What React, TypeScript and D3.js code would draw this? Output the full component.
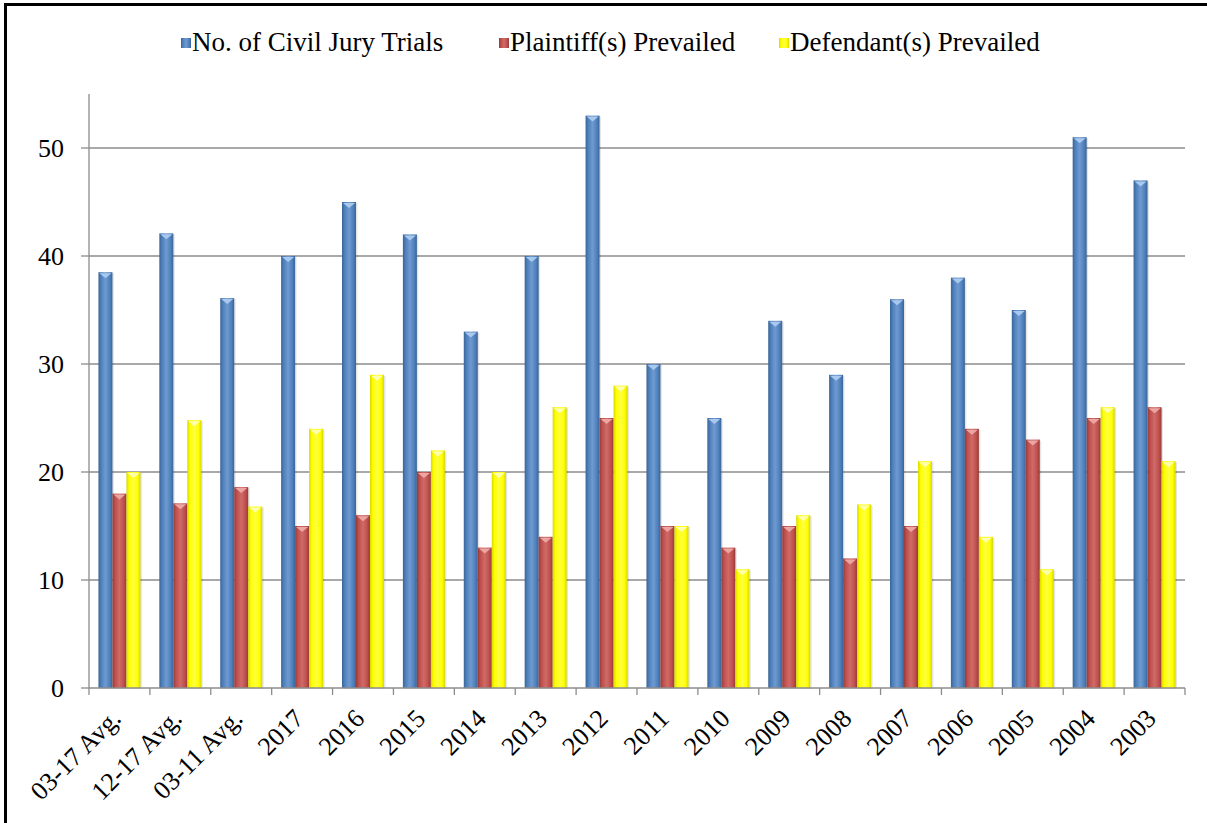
import React from "react";
import * as d3 from "d3";

const categories = ["03-17 Avg.", "12-17 Avg.", "03-11 Avg.", "2017", "2016", "2015", "2014", "2013", "2012", "2011", "2010", "2009", "2008", "2007", "2006", "2005", "2004", "2003"];
const trials = [38.5, 42.1, 36.1, 40, 45, 42, 33, 40, 53, 30, 25, 34, 29, 36, 38, 35, 51, 47];
const plaintiff = [18, 17.1, 18.6, 15, 16, 20, 13, 14, 25, 15, 13, 15, 12, 15, 24, 23, 25, 26];
const defendant = [20, 24.8, 16.8, 24, 29, 22, 20, 26, 28, 15, 11, 16, 17, 21, 14, 11, 26, 21];
const seriesNames = ["No. of Civil Jury Trials", "Plaintiff(s) Prevailed", "Defendant(s) Prevailed"];
const yTicks = [0, 10, 20, 30, 40, 50];

const colors = [
  { base: "#4F81BD", dark: "#3A6597", light: "#6F9AD0", cap: "#A9C8EE" },
  { base: "#C0504D", dark: "#963B39", light: "#CF6B68", cap: "#EBA6A4" },
  { base: "#FFFF00", dark: "#D8D800", light: "#FFFF40", cap: "#FFFFB0" },
];

export default function App() {
  const W = 1207, H = 823;
  const left = 89, right = 1185, top = 94, bottom = 688;
  const x = d3.scaleBand().domain(categories).range([left, right]).paddingInner(0).paddingOuter(0);
  const y = d3.scaleLinear().domain([0, 55]).range([bottom, top]);
  const bw = 14;
  const data = [trials, plaintiff, defendant];
  const font = "'Liberation Serif', 'Times New Roman', serif";
  const legendX = [181, 499, 779];

  return (
    <svg width={W} height={H} style={{ position: "absolute", left: 0, top: 0 }}>
      <defs>
        {colors.map((c, i) => (
          <linearGradient key={i} id={`g${i}`} x1="0" x2="1" y1="0" y2="0">
            <stop offset="0" stopColor={c.dark} />
            <stop offset="0.2" stopColor={c.base} />
            <stop offset="0.5" stopColor={c.light} />
            <stop offset="0.8" stopColor={c.base} />
            <stop offset="1" stopColor={c.dark} />
          </linearGradient>
        ))}
      </defs>
      <rect x={0} y={0} width={W} height={H} fill="#fff" />
      <line x1={5.5} x2={5.5} y1={3} y2={H} stroke="#000" strokeWidth={3} />
      <line x1={4} x2={W} y1={4.5} y2={4.5} stroke="#000" strokeWidth={3} />
      {yTicks.map((t) => (
        <g key={t}>
          {t > 0 && <line x1={left} x2={right} y1={y(t)} y2={y(t)} stroke="#8c8c8c" strokeWidth={1.3} />}
          <line x1={left - 8} x2={left} y1={y(t)} y2={y(t)} stroke="#8c8c8c" strokeWidth={1.3} />
          <text x={left - 25} y={y(t) + 9} textAnchor="end" fontFamily={font} fontSize={26} fill="#000">{t}</text>
        </g>
      ))}
      <line x1={left} x2={left} y1={top} y2={bottom} stroke="#8c8c8c" strokeWidth={1.3} />
      {categories.map((c, i) => {
        const bx = x(c)!;
        return (
          <g key={c}>
            {data.map((s, k) => {
              const x0 = bx + (x.bandwidth() - 3 * bw) / 2 + k * bw;
              const y0 = y(s[i]);
              const h = bottom - y0;
              return (
                <g key={k}>
                  <rect x={x0 + 1.5} y={y0 + 1} width={bw} height={h} fill="#000" opacity={0.1} />
                  <rect x={x0} y={y0} width={bw} height={h} fill={`url(#g${k})`} />
                  <path d={`M${x0 + 1},${y0 + 1}L${x0 + bw - 1},${y0 + 1}L${x0 + bw / 2},${y0 + 6}Z`} fill={colors[k].cap} />
                </g>
              );
            })}
          </g>
        );
      })}
      <line x1={left} x2={right} y1={bottom} y2={bottom} stroke="#8c8c8c" strokeWidth={1.3} />
      {categories.map((c, i) => (
        <line key={"t" + c} x1={left + i * x.step()} x2={left + i * x.step()} y1={bottom} y2={bottom + 7} stroke="#8c8c8c" strokeWidth={1.3} />
      ))}
      <line x1={right} x2={right} y1={bottom} y2={bottom + 7} stroke="#8c8c8c" strokeWidth={1.3} />
      {categories.map((c) => {
        const cx = x(c)! + x.bandwidth() / 2 + 3;
        const cy = bottom + 32;
        return (
          <text key={"l" + c} x={cx} y={cy} transform={`rotate(-45 ${cx} ${cy})`} textAnchor="end" fontFamily={font} fontSize={26} fill="#000">{c}</text>
        );
      })}
      {seriesNames.map((n, k) => (
        <g key={n}>
          <rect x={legendX[k]} y={38} width={10} height={10} fill={`url(#g${k})`} />
          <text x={legendX[k] + 11} y={51} fontFamily={font} fontSize={27} fill="#000">{n}</text>
        </g>
      ))}
    </svg>
  );
}
